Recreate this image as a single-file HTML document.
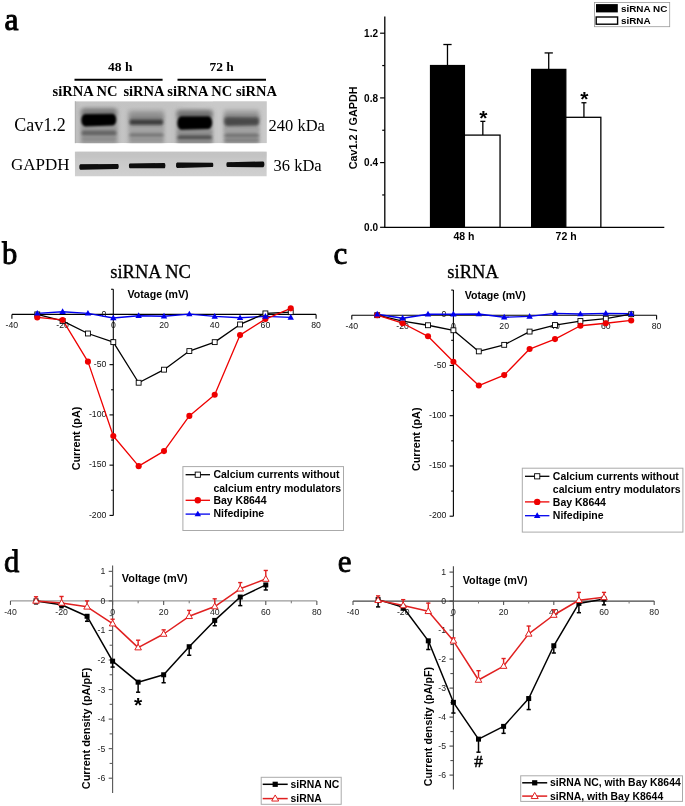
<!DOCTYPE html>
<html><head><meta charset="utf-8"><title>Figure</title>
<style>html,body{margin:0;padding:0;background:#fff;} svg{display:block;will-change:transform;}</style>
</head><body>
<svg width="685" height="806" viewBox="0 0 685 806">
<rect width="685" height="806" fill="#fff"/>
<text x="4.60" y="30.00" font-family='"Liberation Serif", serif' font-size="31.5" font-weight="normal" text-anchor="start" fill="#000" stroke="#000" stroke-width="1.0">a</text>
<text x="2.00" y="263.80" font-family='"Liberation Serif", serif' font-size="30.6" font-weight="normal" text-anchor="start" fill="#000" stroke="#000" stroke-width="0.9">b</text>
<text x="333.40" y="263.60" font-family='"Liberation Serif", serif' font-size="31" font-weight="normal" text-anchor="start" fill="#000" stroke="#000" stroke-width="0.9">c</text>
<text x="4.00" y="571.90" font-family='"Liberation Serif", serif' font-size="30.6" font-weight="normal" text-anchor="start" fill="#000" stroke="#000" stroke-width="0.8">d</text>
<text x="337.80" y="572.00" font-family='"Liberation Serif", serif' font-size="31" font-weight="normal" text-anchor="start" fill="#000" stroke="#000" stroke-width="0.8">e</text>
<text x="120.30" y="70.70" font-family='"Liberation Serif", serif' font-size="13.5" font-weight="bold" text-anchor="middle" fill="#000" >48 h</text>
<text x="221.60" y="70.70" font-family='"Liberation Serif", serif' font-size="13.5" font-weight="bold" text-anchor="middle" fill="#000" >72 h</text>
<line x1="74.50" y1="79.80" x2="162.60" y2="79.80" stroke="#000" stroke-width="2" />
<line x1="177.50" y1="79.80" x2="266.00" y2="79.80" stroke="#000" stroke-width="2" />
<text x="85.00" y="96.40" font-family='"Liberation Serif", serif' font-size="14.5" font-weight="bold" text-anchor="middle" fill="#000" >siRNA NC</text>
<text x="144.00" y="96.40" font-family='"Liberation Serif", serif' font-size="14.5" font-weight="bold" text-anchor="middle" fill="#000" >siRNA</text>
<text x="199.70" y="96.40" font-family='"Liberation Serif", serif' font-size="14.5" font-weight="bold" text-anchor="middle" fill="#000" >siRNA NC</text>
<text x="256.50" y="96.40" font-family='"Liberation Serif", serif' font-size="14.5" font-weight="bold" text-anchor="middle" fill="#000" >siRNA</text>
<text x="14.30" y="130.80" font-family='"Liberation Serif", serif' font-size="18" font-weight="normal" text-anchor="start" fill="#000" >Cav1.2</text>
<text x="11.00" y="169.60" font-family='"Liberation Serif", serif' font-size="17" font-weight="normal" text-anchor="start" fill="#000" >GAPDH</text>
<text x="268.50" y="131.30" font-family='"Liberation Serif", serif' font-size="16.5" font-weight="normal" text-anchor="start" fill="#000" >240 kDa</text>
<text x="273.50" y="170.70" font-family='"Liberation Serif", serif' font-size="16.5" font-weight="normal" text-anchor="start" fill="#000" >36 kDa</text>
<defs>
<filter id="b06" x="-20%" y="-100%" width="140%" height="300%"><feGaussianBlur stdDeviation="0.6"/></filter>
<filter id="b10" x="-20%" y="-100%" width="140%" height="300%"><feGaussianBlur stdDeviation="1.0"/></filter>
<filter id="b14" x="-20%" y="-100%" width="140%" height="300%"><feGaussianBlur stdDeviation="1.4"/></filter>
<filter id="b20" x="-30%" y="-100%" width="160%" height="300%"><feGaussianBlur stdDeviation="2.0"/></filter>
<filter id="b30" x="-30%" y="-100%" width="160%" height="300%"><feGaussianBlur stdDeviation="3.0"/></filter>
<linearGradient id="gbg" x1="0" x2="1" y1="0" y2="0">
<stop offset="0" stop-color="#bdbdbd"/><stop offset="0.03" stop-color="#c4c4c4"/><stop offset="0.5" stop-color="#c3c3c3"/><stop offset="0.72" stop-color="#c9c9c9"/><stop offset="1" stop-color="#c8c8c8"/>
</linearGradient>
<linearGradient id="gbg2" x1="0" x2="0" y1="0" y2="1">
<stop offset="0" stop-color="#c6c6c6"/><stop offset="0.5" stop-color="#cacaca"/><stop offset="1" stop-color="#d0d0d0"/>
</linearGradient>
<clipPath id="cb1"><rect x="74.8" y="101.2" width="192" height="42"/></clipPath>
<clipPath id="cb2"><rect x="74.8" y="151.5" width="192" height="25"/></clipPath>
</defs>
<g clip-path="url(#cb1)">
<rect x="74.8" y="101.2" width="192" height="42" fill="url(#gbg)"/>
<rect x="213" y="101.2" width="54" height="42" fill="#c9c9c9" opacity="0.6"/>
<rect x="80.5" y="110" width="37.0" height="36" fill="#9c9c9c" filter="url(#b20)"/>
<rect x="128.5" y="110" width="35.5" height="36" fill="#a4a4a4" filter="url(#b20)"/>
<rect x="176.5" y="110" width="36.0" height="36" fill="#989898" filter="url(#b20)"/>
<rect x="224" y="110" width="35" height="36" fill="#a0a0a0" filter="url(#b20)"/>
<path d="M83.60,108.50 L114.40,108.50 A2.10,3.50 0 0 1 114.40,115.50 L83.60,115.50 A2.10,3.50 0 0 1 83.60,108.50 Z" fill="#7a7a7a" opacity="1.0" filter="url(#b20)"/>
<path d="M131.60,113.50 L161.40,113.50 A2.10,3.50 0 0 1 161.40,120.50 L131.60,120.50 A2.10,3.50 0 0 1 131.60,113.50 Z" fill="#8a8a8a" opacity="1.0" filter="url(#b20)"/>
<path d="M179.60,111.00 L209.90,111.00 A2.10,3.50 0 0 1 209.90,118.00 L179.60,118.00 A2.10,3.50 0 0 1 179.60,111.00 Z" fill="#707070" opacity="1.0" filter="url(#b20)"/>
<path d="M226.60,114.50 L256.90,114.50 A2.10,3.50 0 0 1 256.90,121.50 L226.60,121.50 A2.10,3.50 0 0 1 226.60,114.50 Z" fill="#888888" opacity="1.0" filter="url(#b20)"/>
<path d="M82.40,126.50 L115.60,126.50 A0.90,1.50 0 0 1 115.60,129.50 L82.40,129.50 A0.90,1.50 0 0 1 82.40,126.50 Z" fill="#9a9a9a" opacity="1.0" filter="url(#b14)"/>
<path d="M83.00,130.50 L115.00,130.50 A1.50,2.50 0 0 1 115.00,135.50 L83.00,135.50 A1.50,2.50 0 0 1 83.00,130.50 Z" fill="#626262" opacity="1.0" filter="url(#b14)"/>
<path d="M83.05,137.25 L114.95,137.25 A1.05,1.75 0 0 1 114.95,140.75 L83.05,140.75 A1.05,1.75 0 0 1 83.05,137.25 Z" fill="#8a8a8a" opacity="1.0" filter="url(#b14)"/>
<path d="M130.70,127.00 L162.30,127.00 A1.20,2.00 0 0 1 162.30,131.00 L130.70,131.00 A1.20,2.00 0 0 1 130.70,127.00 Z" fill="#a4a4a4" opacity="1.0" filter="url(#b14)"/>
<path d="M130.64,133.30 L162.36,133.30 A1.14,1.90 0 0 1 162.36,137.10 L130.64,137.10 A1.14,1.90 0 0 1 130.64,133.30 Z" fill="#747474" opacity="1.0" filter="url(#b14)"/>
<path d="M130.90,138.30 L162.10,138.30 A0.90,1.50 0 0 1 162.10,141.30 L130.90,141.30 A0.90,1.50 0 0 1 130.90,138.30 Z" fill="#909090" opacity="1.0" filter="url(#b14)"/>
<path d="M178.55,130.25 L210.95,130.25 A1.05,1.75 0 0 1 210.95,133.75 L178.55,133.75 A1.05,1.75 0 0 1 178.55,130.25 Z" fill="#8e8e8e" opacity="1.0" filter="url(#b14)"/>
<path d="M178.85,135.15 L210.65,135.15 A1.35,2.25 0 0 1 210.65,139.65 L178.85,139.65 A1.35,2.25 0 0 1 178.85,135.15 Z" fill="#505050" opacity="1.0" filter="url(#b14)"/>
<path d="M178.75,140.15 L211.25,140.15 A0.75,1.25 0 0 1 211.25,142.65 L178.75,142.65 A0.75,1.25 0 0 1 178.75,140.15 Z" fill="#888888" opacity="1.0" filter="url(#b14)"/>
<path d="M226.00,127.00 L257.50,127.00 A1.50,2.50 0 0 1 257.50,132.00 L226.00,132.00 A1.50,2.50 0 0 1 226.00,127.00 Z" fill="#a2a2a2" opacity="1.0" filter="url(#b14)"/>
<path d="M225.55,133.85 L257.95,133.85 A1.05,1.75 0 0 1 257.95,137.35 L225.55,137.35 A1.05,1.75 0 0 1 225.55,133.85 Z" fill="#6e6e6e" opacity="1.0" filter="url(#b14)"/>
<path d="M225.46,138.60 L258.04,138.60 A0.96,1.60 0 0 1 258.04,141.80 L225.46,141.80 A0.96,1.60 0 0 1 225.46,138.60 Z" fill="#7a7a7a" opacity="1.0" filter="url(#b14)"/>
<path d="M85.02,114.00 L112.76,113.70 A3.54,5.90 0 0 1 112.76,125.50 L85.02,126.40 A3.72,6.20 0 0 1 85.02,114.00 Z" fill="#050505" opacity="1.0" filter="url(#b10)"/>
<path d="M131.24,119.30 L161.46,119.30 A1.74,2.90 0 0 1 161.46,125.10 L131.24,125.10 A1.74,2.90 0 0 1 131.24,119.30 Z" fill="#3e3e3e" opacity="1.0" filter="url(#b14)"/>
<path d="M181.32,116.30 L208.42,116.30 A3.78,6.30 0 0 1 208.42,128.90 L181.32,129.70 A4.02,6.70 0 0 1 181.32,116.30 Z" fill="#020202" opacity="1.0" filter="url(#b10)"/>
<path d="M226.78,117.30 L256.60,117.40 A2.40,4.00 0 0 1 256.60,125.40 L226.78,125.90 A2.58,4.30 0 0 1 226.78,117.30 Z" fill="#484848" opacity="1.0" filter="url(#b14)"/>
</g>
<line x1="75.3" y1="101.2" x2="75.3" y2="143.2" stroke="#aaa" stroke-width="0.8"/>
<g clip-path="url(#cb2)">
<rect x="74.8" y="151.5" width="192" height="25" fill="url(#gbg2)"/>
<rect x="74.8" y="151.5" width="192" height="6" fill="#c2c2c2" filter="url(#b20)"/>
<path d="M80.42,164.20 L117.74,164.10 A0.96,2.40 0 0 1 117.74,168.90 L80.42,169.80 A1.12,2.80 0 0 1 80.42,164.20 Z" fill="#080808" opacity="1.0" filter="url(#b06)"/>
<path d="M129.86,163.40 L164.32,162.90 A1.08,2.70 0 0 1 164.32,168.30 L129.86,168.20 A0.96,2.40 0 0 1 129.86,163.40 Z" fill="#080808" opacity="1.0" filter="url(#b06)"/>
<path d="M177.12,162.40 L212.42,162.70 A0.88,2.20 0 0 1 212.42,167.10 L177.12,168.00 A1.12,2.80 0 0 1 177.12,162.40 Z" fill="#080808" opacity="1.0" filter="url(#b06)"/>
<path d="M227.36,162.30 L263.24,161.40 A1.16,2.90 0 0 1 263.24,167.20 L227.36,167.10 A0.96,2.40 0 0 1 227.36,162.30 Z" fill="#080808" opacity="1.0" filter="url(#b06)"/>
</g>
<line x1="384.80" y1="16.60" x2="384.80" y2="227.80" stroke="#000" stroke-width="1.3" />
<line x1="384.20" y1="227.30" x2="664.30" y2="227.30" stroke="#000" stroke-width="1.3" />
<line x1="380.10" y1="227.30" x2="384.80" y2="227.30" stroke="#000" stroke-width="1.2" />
<text x="378.00" y="230.90" font-family='"Liberation Sans", sans-serif' font-size="10" font-weight="bold" text-anchor="end" fill="#000" >0.0</text>
<line x1="380.10" y1="162.60" x2="384.80" y2="162.60" stroke="#000" stroke-width="1.2" />
<text x="378.00" y="166.20" font-family='"Liberation Sans", sans-serif' font-size="10" font-weight="bold" text-anchor="end" fill="#000" >0.4</text>
<line x1="380.10" y1="97.90" x2="384.80" y2="97.90" stroke="#000" stroke-width="1.2" />
<text x="378.00" y="101.50" font-family='"Liberation Sans", sans-serif' font-size="10" font-weight="bold" text-anchor="end" fill="#000" >0.8</text>
<line x1="380.10" y1="33.20" x2="384.80" y2="33.20" stroke="#000" stroke-width="1.2" />
<text x="378.00" y="36.80" font-family='"Liberation Sans", sans-serif' font-size="10" font-weight="bold" text-anchor="end" fill="#000" >1.2</text>
<line x1="382.20" y1="194.95" x2="384.80" y2="194.95" stroke="#000" stroke-width="1.2" />
<line x1="382.20" y1="130.25" x2="384.80" y2="130.25" stroke="#000" stroke-width="1.2" />
<line x1="382.20" y1="65.55" x2="384.80" y2="65.55" stroke="#000" stroke-width="1.2" />
<text x="0.00" y="0.00" font-family='"Liberation Sans", sans-serif' font-size="10.8" font-weight="bold" text-anchor="middle" fill="#000" transform="translate(357.0,127.8) rotate(-90)">Cav1.2 / GAPDH</text>
<line x1="447.48" y1="65.55" x2="447.48" y2="44.52" stroke="#000" stroke-width="1.3" />
<line x1="443.33" y1="44.52" x2="451.62" y2="44.52" stroke="#000" stroke-width="1.3" />
<rect x="430.55" y="65.55" width="33.85" height="161.75" fill="#000" stroke="#000" stroke-width="1.3"/>
<line x1="482.83" y1="135.10" x2="482.83" y2="121.35" stroke="#000" stroke-width="1.3" />
<line x1="480.33" y1="121.35" x2="485.33" y2="121.35" stroke="#000" stroke-width="1.3" />
<rect x="464.40" y="135.10" width="35.65" height="92.20" fill="#fff" stroke="#000" stroke-width="1.3"/>
<line x1="548.72" y1="69.43" x2="548.72" y2="52.93" stroke="#000" stroke-width="1.3" />
<line x1="544.57" y1="52.93" x2="552.87" y2="52.93" stroke="#000" stroke-width="1.3" />
<rect x="531.65" y="69.43" width="34.15" height="157.87" fill="#000" stroke="#000" stroke-width="1.3"/>
<line x1="583.93" y1="117.31" x2="583.93" y2="102.75" stroke="#000" stroke-width="1.3" />
<line x1="581.43" y1="102.75" x2="586.43" y2="102.75" stroke="#000" stroke-width="1.3" />
<rect x="565.80" y="117.31" width="35.05" height="109.99" fill="#fff" stroke="#000" stroke-width="1.3"/>
<text x="483.30" y="124.50" font-family='"Liberation Sans", sans-serif' font-size="21" font-weight="bold" text-anchor="middle" fill="#000" >*</text>
<text x="584.40" y="106.30" font-family='"Liberation Sans", sans-serif' font-size="21" font-weight="bold" text-anchor="middle" fill="#000" >*</text>
<text x="464.00" y="240.40" font-family='"Liberation Sans", sans-serif' font-size="10.5" font-weight="bold" text-anchor="middle" fill="#000" >48 h</text>
<text x="566.10" y="240.40" font-family='"Liberation Sans", sans-serif' font-size="10.5" font-weight="bold" text-anchor="middle" fill="#000" >72 h</text>
<rect x="594.5" y="2.5" width="75.2" height="24.2" fill="#fff" stroke="#9a9a9a" stroke-width="0.8"/>
<rect x="596" y="4.1" width="21.8" height="8.3" fill="#000"/>
<rect x="596.2" y="17.0" width="21.4" height="7.2" fill="#fff" stroke="#000" stroke-width="1.4"/>
<text x="621.00" y="11.60" font-family='"Liberation Sans", sans-serif' font-size="9.9" font-weight="bold" text-anchor="start" fill="#000" >siRNA NC</text>
<text x="621.00" y="24.20" font-family='"Liberation Sans", sans-serif' font-size="9.9" font-weight="bold" text-anchor="start" fill="#000" >siRNA</text>
<text x="150.60" y="277.50" font-family='"Liberation Serif", serif' font-size="18.5" font-weight="normal" text-anchor="middle" fill="#000" stroke="#000" stroke-width="0.3">siRNA NC</text>
<line x1="11.90" y1="314.40" x2="316.10" y2="314.40" stroke="#000" stroke-width="1.1" />
<line x1="113.30" y1="289.27" x2="113.30" y2="515.40" stroke="#000" stroke-width="1.1" />
<line x1="11.90" y1="314.40" x2="11.90" y2="318.70" stroke="#000" stroke-width="1.1" />
<line x1="316.10" y1="314.40" x2="316.10" y2="318.70" stroke="#000" stroke-width="1.1" />
<text x="11.90" y="328.30" font-family='"Liberation Sans", sans-serif' font-size="8.7" font-weight="normal" text-anchor="middle" fill="#111" >-40</text>
<text x="62.60" y="328.30" font-family='"Liberation Sans", sans-serif' font-size="8.7" font-weight="normal" text-anchor="middle" fill="#111" >-20</text>
<text x="113.30" y="328.30" font-family='"Liberation Sans", sans-serif' font-size="8.7" font-weight="normal" text-anchor="middle" fill="#111" >0</text>
<text x="164.00" y="328.30" font-family='"Liberation Sans", sans-serif' font-size="8.7" font-weight="normal" text-anchor="middle" fill="#111" >20</text>
<text x="214.70" y="328.30" font-family='"Liberation Sans", sans-serif' font-size="8.7" font-weight="normal" text-anchor="middle" fill="#111" >40</text>
<text x="265.40" y="328.30" font-family='"Liberation Sans", sans-serif' font-size="8.7" font-weight="normal" text-anchor="middle" fill="#111" >60</text>
<text x="316.10" y="328.30" font-family='"Liberation Sans", sans-serif' font-size="8.7" font-weight="normal" text-anchor="middle" fill="#111" >80</text>
<line x1="109.50" y1="314.40" x2="113.30" y2="314.40" stroke="#000" stroke-width="1.1" />
<text x="106.30" y="316.60" font-family='"Liberation Sans", sans-serif' font-size="8.7" font-weight="normal" text-anchor="end" fill="#111" >0</text>
<line x1="109.50" y1="364.65" x2="113.30" y2="364.65" stroke="#000" stroke-width="1.1" />
<text x="106.30" y="366.85" font-family='"Liberation Sans", sans-serif' font-size="8.7" font-weight="normal" text-anchor="end" fill="#111" >-50</text>
<line x1="109.50" y1="414.90" x2="113.30" y2="414.90" stroke="#000" stroke-width="1.1" />
<text x="106.30" y="417.10" font-family='"Liberation Sans", sans-serif' font-size="8.7" font-weight="normal" text-anchor="end" fill="#111" >-100</text>
<line x1="109.50" y1="465.15" x2="113.30" y2="465.15" stroke="#000" stroke-width="1.1" />
<text x="106.30" y="467.35" font-family='"Liberation Sans", sans-serif' font-size="8.7" font-weight="normal" text-anchor="end" fill="#111" >-150</text>
<line x1="109.50" y1="515.40" x2="113.30" y2="515.40" stroke="#000" stroke-width="1.1" />
<text x="106.30" y="517.60" font-family='"Liberation Sans", sans-serif' font-size="8.7" font-weight="normal" text-anchor="end" fill="#111" >-200</text>
<line x1="111.10" y1="289.27" x2="113.30" y2="289.27" stroke="#000" stroke-width="1.1" />
<line x1="111.10" y1="339.52" x2="113.30" y2="339.52" stroke="#000" stroke-width="1.1" />
<line x1="111.10" y1="389.77" x2="113.30" y2="389.77" stroke="#000" stroke-width="1.1" />
<line x1="111.10" y1="440.02" x2="113.30" y2="440.02" stroke="#000" stroke-width="1.1" />
<line x1="111.10" y1="490.27" x2="113.30" y2="490.27" stroke="#000" stroke-width="1.1" />
<text x="127.60" y="298.10" font-family='"Liberation Sans", sans-serif' font-size="10.6" font-weight="bold" text-anchor="start" fill="#000" >Votage (mV)</text>
<text x="0.00" y="0.00" font-family='"Liberation Sans", sans-serif' font-size="10.8" font-weight="bold" text-anchor="middle" fill="#000" transform="translate(80.1,438.5) rotate(-90)">Current (pA)</text>
<polyline points="37.25,313.39 62.60,311.69 87.95,313.39 113.30,318.02 138.65,315.71 164.00,316.21 189.35,314.10 214.70,316.41 240.05,317.72 265.40,316.41 290.75,317.41" fill="none" stroke="#0000ee" stroke-width="1.4" stroke-linejoin="round"/>
<polyline points="37.25,314.40 62.60,320.93 87.95,333.50 113.30,342.14 138.65,382.74 164.00,369.67 189.35,351.08 214.70,342.14 240.05,324.45 265.40,313.39 290.75,312.19" fill="none" stroke="#000" stroke-width="1.3" stroke-linejoin="round"/>
<polyline points="37.25,317.41 62.60,319.93 87.95,361.63 113.30,436.00 138.65,466.15 164.00,451.08 189.35,415.90 214.70,394.80 240.05,335.10 265.40,319.12 290.75,308.37" fill="none" stroke="#ee0000" stroke-width="1.3" stroke-linejoin="round"/>
<rect x="34.80" y="311.95" width="4.9" height="4.9" fill="#fff" stroke="#000" stroke-width="0.9"/>
<rect x="60.15" y="318.48" width="4.9" height="4.9" fill="#fff" stroke="#000" stroke-width="0.9"/>
<rect x="85.50" y="331.05" width="4.9" height="4.9" fill="#fff" stroke="#000" stroke-width="0.9"/>
<rect x="110.85" y="339.69" width="4.9" height="4.9" fill="#fff" stroke="#000" stroke-width="0.9"/>
<rect x="136.20" y="380.29" width="4.9" height="4.9" fill="#fff" stroke="#000" stroke-width="0.9"/>
<rect x="161.55" y="367.22" width="4.9" height="4.9" fill="#fff" stroke="#000" stroke-width="0.9"/>
<rect x="186.90" y="348.63" width="4.9" height="4.9" fill="#fff" stroke="#000" stroke-width="0.9"/>
<rect x="212.25" y="339.69" width="4.9" height="4.9" fill="#fff" stroke="#000" stroke-width="0.9"/>
<rect x="237.60" y="322.00" width="4.9" height="4.9" fill="#fff" stroke="#000" stroke-width="0.9"/>
<rect x="262.95" y="310.94" width="4.9" height="4.9" fill="#fff" stroke="#000" stroke-width="0.9"/>
<rect x="288.30" y="309.74" width="4.9" height="4.9" fill="#fff" stroke="#000" stroke-width="0.9"/>
<circle cx="37.25" cy="317.41" r="3.05" fill="#ee0000"/>
<circle cx="62.60" cy="319.93" r="3.05" fill="#ee0000"/>
<circle cx="87.95" cy="361.63" r="3.05" fill="#ee0000"/>
<circle cx="113.30" cy="436.00" r="3.05" fill="#ee0000"/>
<circle cx="138.65" cy="466.15" r="3.05" fill="#ee0000"/>
<circle cx="164.00" cy="451.08" r="3.05" fill="#ee0000"/>
<circle cx="189.35" cy="415.90" r="3.05" fill="#ee0000"/>
<circle cx="214.70" cy="394.80" r="3.05" fill="#ee0000"/>
<circle cx="240.05" cy="335.10" r="3.05" fill="#ee0000"/>
<circle cx="265.40" cy="319.12" r="3.05" fill="#ee0000"/>
<circle cx="290.75" cy="308.37" r="3.05" fill="#ee0000"/>
<polygon points="37.25,310.05 34.05,315.62 40.45,315.62" fill="#0000ee" stroke="none" stroke-width="1.0" stroke-linejoin="miter"/>
<polygon points="62.60,308.35 59.40,313.91 65.80,313.91" fill="#0000ee" stroke="none" stroke-width="1.0" stroke-linejoin="miter"/>
<polygon points="87.95,310.05 84.75,315.62 91.15,315.62" fill="#0000ee" stroke="none" stroke-width="1.0" stroke-linejoin="miter"/>
<polygon points="113.30,314.68 110.10,320.25 116.50,320.25" fill="#0000ee" stroke="none" stroke-width="1.0" stroke-linejoin="miter"/>
<polygon points="138.65,312.37 135.45,317.93 141.85,317.93" fill="#0000ee" stroke="none" stroke-width="1.0" stroke-linejoin="miter"/>
<polygon points="164.00,312.87 160.80,318.44 167.20,318.44" fill="#0000ee" stroke="none" stroke-width="1.0" stroke-linejoin="miter"/>
<polygon points="189.35,310.76 186.15,316.33 192.55,316.33" fill="#0000ee" stroke="none" stroke-width="1.0" stroke-linejoin="miter"/>
<polygon points="214.70,313.07 211.50,318.64 217.90,318.64" fill="#0000ee" stroke="none" stroke-width="1.0" stroke-linejoin="miter"/>
<polygon points="240.05,314.38 236.85,319.94 243.25,319.94" fill="#0000ee" stroke="none" stroke-width="1.0" stroke-linejoin="miter"/>
<polygon points="265.40,313.07 262.20,318.64 268.60,318.64" fill="#0000ee" stroke="none" stroke-width="1.0" stroke-linejoin="miter"/>
<polygon points="290.75,314.07 287.55,319.64 293.95,319.64" fill="#0000ee" stroke="none" stroke-width="1.0" stroke-linejoin="miter"/>
<rect x="182.9" y="466.6" width="160.6" height="63.9" fill="#fff" stroke="#aaa" stroke-width="1"/>
<line x1="185.60" y1="474.70" x2="210.00" y2="474.70" stroke="#000" stroke-width="1.3" />
<rect x="195.20" y="472.10" width="5.2" height="5.2" fill="#fff" stroke="#000" stroke-width="0.9"/>
<line x1="185.60" y1="500.30" x2="210.00" y2="500.30" stroke="#ee0000" stroke-width="1.3" />
<circle cx="197.80" cy="500.30" r="3.2" fill="#ee0000"/>
<line x1="185.60" y1="514.10" x2="210.00" y2="514.10" stroke="#0000ee" stroke-width="1.3" />
<polygon points="197.80,510.71 194.55,516.36 201.05,516.36" fill="#0000ee" stroke="none" stroke-width="1.0" stroke-linejoin="miter"/>
<text x="213.40" y="478.40" font-family='"Liberation Sans", sans-serif' font-size="10.5" font-weight="bold" text-anchor="start" fill="#000" >Calcium currents without</text>
<text x="213.40" y="491.50" font-family='"Liberation Sans", sans-serif' font-size="10.5" font-weight="bold" text-anchor="start" fill="#000" >calcium entry modulators</text>
<text x="213.40" y="504.20" font-family='"Liberation Sans", sans-serif' font-size="10.5" font-weight="bold" text-anchor="start" fill="#000" >Bay K8644</text>
<text x="213.40" y="517.30" font-family='"Liberation Sans", sans-serif' font-size="10.5" font-weight="bold" text-anchor="start" fill="#000" >Nifedipine</text>
<text x="473.00" y="277.50" font-family='"Liberation Serif", serif' font-size="18.5" font-weight="normal" text-anchor="middle" fill="#000" stroke="#000" stroke-width="0.3">siRNA</text>
<line x1="351.80" y1="315.20" x2="656.60" y2="315.20" stroke="#000" stroke-width="1.1" />
<line x1="453.40" y1="290.07" x2="453.40" y2="516.20" stroke="#000" stroke-width="1.1" />
<line x1="351.80" y1="315.20" x2="351.80" y2="319.50" stroke="#000" stroke-width="1.1" />
<line x1="656.60" y1="315.20" x2="656.60" y2="319.50" stroke="#000" stroke-width="1.1" />
<text x="351.80" y="329.10" font-family='"Liberation Sans", sans-serif' font-size="8.7" font-weight="normal" text-anchor="middle" fill="#111" >-40</text>
<text x="402.60" y="329.10" font-family='"Liberation Sans", sans-serif' font-size="8.7" font-weight="normal" text-anchor="middle" fill="#111" >-20</text>
<text x="453.40" y="329.10" font-family='"Liberation Sans", sans-serif' font-size="8.7" font-weight="normal" text-anchor="middle" fill="#111" >0</text>
<text x="504.20" y="329.10" font-family='"Liberation Sans", sans-serif' font-size="8.7" font-weight="normal" text-anchor="middle" fill="#111" >20</text>
<text x="555.00" y="329.10" font-family='"Liberation Sans", sans-serif' font-size="8.7" font-weight="normal" text-anchor="middle" fill="#111" >40</text>
<text x="605.80" y="329.10" font-family='"Liberation Sans", sans-serif' font-size="8.7" font-weight="normal" text-anchor="middle" fill="#111" >60</text>
<text x="656.60" y="329.10" font-family='"Liberation Sans", sans-serif' font-size="8.7" font-weight="normal" text-anchor="middle" fill="#111" >80</text>
<line x1="449.60" y1="315.20" x2="453.40" y2="315.20" stroke="#000" stroke-width="1.1" />
<text x="446.40" y="317.40" font-family='"Liberation Sans", sans-serif' font-size="8.7" font-weight="normal" text-anchor="end" fill="#111" >0</text>
<line x1="449.60" y1="365.45" x2="453.40" y2="365.45" stroke="#000" stroke-width="1.1" />
<text x="446.40" y="367.65" font-family='"Liberation Sans", sans-serif' font-size="8.7" font-weight="normal" text-anchor="end" fill="#111" >-50</text>
<line x1="449.60" y1="415.70" x2="453.40" y2="415.70" stroke="#000" stroke-width="1.1" />
<text x="446.40" y="417.90" font-family='"Liberation Sans", sans-serif' font-size="8.7" font-weight="normal" text-anchor="end" fill="#111" >-100</text>
<line x1="449.60" y1="465.95" x2="453.40" y2="465.95" stroke="#000" stroke-width="1.1" />
<text x="446.40" y="468.15" font-family='"Liberation Sans", sans-serif' font-size="8.7" font-weight="normal" text-anchor="end" fill="#111" >-150</text>
<line x1="449.60" y1="516.20" x2="453.40" y2="516.20" stroke="#000" stroke-width="1.1" />
<text x="446.40" y="518.40" font-family='"Liberation Sans", sans-serif' font-size="8.7" font-weight="normal" text-anchor="end" fill="#111" >-200</text>
<line x1="451.20" y1="290.07" x2="453.40" y2="290.07" stroke="#000" stroke-width="1.1" />
<line x1="451.20" y1="340.32" x2="453.40" y2="340.32" stroke="#000" stroke-width="1.1" />
<line x1="451.20" y1="390.57" x2="453.40" y2="390.57" stroke="#000" stroke-width="1.1" />
<line x1="451.20" y1="440.82" x2="453.40" y2="440.82" stroke="#000" stroke-width="1.1" />
<line x1="451.20" y1="491.07" x2="453.40" y2="491.07" stroke="#000" stroke-width="1.1" />
<text x="464.70" y="298.90" font-family='"Liberation Sans", sans-serif' font-size="10.6" font-weight="bold" text-anchor="start" fill="#000" >Votage (mV)</text>
<text x="0.00" y="0.00" font-family='"Liberation Sans", sans-serif' font-size="10.8" font-weight="bold" text-anchor="middle" fill="#000" transform="translate(420.2,439.3) rotate(-90)">Current (pA)</text>
<polyline points="377.20,314.19 402.60,318.21 428.00,314.19 453.40,314.19 478.80,313.99 504.20,317.21 529.60,316.41 555.00,313.39 580.40,313.99 605.80,313.39 631.20,313.79" fill="none" stroke="#0000ee" stroke-width="1.4" stroke-linejoin="round"/>
<polyline points="377.20,315.20 402.60,321.23 428.00,325.25 453.40,330.27 478.80,351.38 504.20,344.85 529.60,331.58 555.00,325.05 580.40,321.03 605.80,318.72 631.20,314.19" fill="none" stroke="#000" stroke-width="1.3" stroke-linejoin="round"/>
<polyline points="377.20,315.20 402.60,323.24 428.00,336.31 453.40,361.73 478.80,385.55 504.20,375.10 529.60,349.07 555.00,339.12 580.40,325.75 605.80,323.24 631.20,320.43" fill="none" stroke="#ee0000" stroke-width="1.3" stroke-linejoin="round"/>
<rect x="374.75" y="312.75" width="4.9" height="4.9" fill="#fff" stroke="#000" stroke-width="0.9"/>
<rect x="400.15" y="318.78" width="4.9" height="4.9" fill="#fff" stroke="#000" stroke-width="0.9"/>
<rect x="425.55" y="322.80" width="4.9" height="4.9" fill="#fff" stroke="#000" stroke-width="0.9"/>
<rect x="450.95" y="327.82" width="4.9" height="4.9" fill="#fff" stroke="#000" stroke-width="0.9"/>
<rect x="476.35" y="348.93" width="4.9" height="4.9" fill="#fff" stroke="#000" stroke-width="0.9"/>
<rect x="501.75" y="342.40" width="4.9" height="4.9" fill="#fff" stroke="#000" stroke-width="0.9"/>
<rect x="527.15" y="329.13" width="4.9" height="4.9" fill="#fff" stroke="#000" stroke-width="0.9"/>
<rect x="552.55" y="322.60" width="4.9" height="4.9" fill="#fff" stroke="#000" stroke-width="0.9"/>
<rect x="577.95" y="318.58" width="4.9" height="4.9" fill="#fff" stroke="#000" stroke-width="0.9"/>
<rect x="603.35" y="316.27" width="4.9" height="4.9" fill="#fff" stroke="#000" stroke-width="0.9"/>
<rect x="628.75" y="311.75" width="4.9" height="4.9" fill="#fff" stroke="#000" stroke-width="0.9"/>
<circle cx="377.20" cy="315.20" r="3.05" fill="#ee0000"/>
<circle cx="402.60" cy="323.24" r="3.05" fill="#ee0000"/>
<circle cx="428.00" cy="336.31" r="3.05" fill="#ee0000"/>
<circle cx="453.40" cy="361.73" r="3.05" fill="#ee0000"/>
<circle cx="478.80" cy="385.55" r="3.05" fill="#ee0000"/>
<circle cx="504.20" cy="375.10" r="3.05" fill="#ee0000"/>
<circle cx="529.60" cy="349.07" r="3.05" fill="#ee0000"/>
<circle cx="555.00" cy="339.12" r="3.05" fill="#ee0000"/>
<circle cx="580.40" cy="325.75" r="3.05" fill="#ee0000"/>
<circle cx="605.80" cy="323.24" r="3.05" fill="#ee0000"/>
<circle cx="631.20" cy="320.43" r="3.05" fill="#ee0000"/>
<polygon points="377.20,310.85 374.00,316.42 380.40,316.42" fill="#0000ee" stroke="none" stroke-width="1.0" stroke-linejoin="miter"/>
<polygon points="402.60,314.87 399.40,320.44 405.80,320.44" fill="#0000ee" stroke="none" stroke-width="1.0" stroke-linejoin="miter"/>
<polygon points="428.00,310.85 424.80,316.42 431.20,316.42" fill="#0000ee" stroke="none" stroke-width="1.0" stroke-linejoin="miter"/>
<polygon points="453.40,310.85 450.20,316.42 456.60,316.42" fill="#0000ee" stroke="none" stroke-width="1.0" stroke-linejoin="miter"/>
<polygon points="478.80,310.65 475.60,316.22 482.00,316.22" fill="#0000ee" stroke="none" stroke-width="1.0" stroke-linejoin="miter"/>
<polygon points="504.20,313.87 501.00,319.44 507.40,319.44" fill="#0000ee" stroke="none" stroke-width="1.0" stroke-linejoin="miter"/>
<polygon points="529.60,313.07 526.40,318.63 532.80,318.63" fill="#0000ee" stroke="none" stroke-width="1.0" stroke-linejoin="miter"/>
<polygon points="555.00,310.05 551.80,315.62 558.20,315.62" fill="#0000ee" stroke="none" stroke-width="1.0" stroke-linejoin="miter"/>
<polygon points="580.40,310.65 577.20,316.22 583.60,316.22" fill="#0000ee" stroke="none" stroke-width="1.0" stroke-linejoin="miter"/>
<polygon points="605.80,310.05 602.60,315.62 609.00,315.62" fill="#0000ee" stroke="none" stroke-width="1.0" stroke-linejoin="miter"/>
<polygon points="631.20,310.45 628.00,316.02 634.40,316.02" fill="#0000ee" stroke="none" stroke-width="1.0" stroke-linejoin="miter"/>
<rect x="522.3" y="468.2" width="160.6" height="63.9" fill="#fff" stroke="#aaa" stroke-width="1"/>
<line x1="525.00" y1="476.30" x2="549.40" y2="476.30" stroke="#000" stroke-width="1.3" />
<rect x="534.60" y="473.70" width="5.2" height="5.2" fill="#fff" stroke="#000" stroke-width="0.9"/>
<line x1="525.00" y1="501.90" x2="549.40" y2="501.90" stroke="#ee0000" stroke-width="1.3" />
<circle cx="537.20" cy="501.90" r="3.2" fill="#ee0000"/>
<line x1="525.00" y1="515.70" x2="549.40" y2="515.70" stroke="#0000ee" stroke-width="1.3" />
<polygon points="537.20,512.31 533.95,517.96 540.45,517.96" fill="#0000ee" stroke="none" stroke-width="1.0" stroke-linejoin="miter"/>
<text x="552.80" y="480.00" font-family='"Liberation Sans", sans-serif' font-size="10.5" font-weight="bold" text-anchor="start" fill="#000" >Calcium currents without</text>
<text x="552.80" y="493.10" font-family='"Liberation Sans", sans-serif' font-size="10.5" font-weight="bold" text-anchor="start" fill="#000" >calcium entry modulators</text>
<text x="552.80" y="505.80" font-family='"Liberation Sans", sans-serif' font-size="10.5" font-weight="bold" text-anchor="start" fill="#000" >Bay K8644</text>
<text x="552.80" y="518.90" font-family='"Liberation Sans", sans-serif' font-size="10.5" font-weight="bold" text-anchor="start" fill="#000" >Nifedipine</text>
<line x1="10.48" y1="600.90" x2="316.84" y2="600.90" stroke="#9a9a9a" stroke-width="1.3" />
<line x1="112.60" y1="565.44" x2="112.60" y2="792.98" stroke="#555" stroke-width="1.1" />
<line x1="10.48" y1="600.90" x2="10.48" y2="604.90" stroke="#555" stroke-width="1.1" />
<text x="10.48" y="615.10" font-family='"Liberation Sans", sans-serif' font-size="8.7" font-weight="normal" text-anchor="middle" fill="#222" >-40</text>
<line x1="61.54" y1="600.90" x2="61.54" y2="604.90" stroke="#555" stroke-width="1.1" />
<text x="61.54" y="615.10" font-family='"Liberation Sans", sans-serif' font-size="8.7" font-weight="normal" text-anchor="middle" fill="#222" >-20</text>
<line x1="112.60" y1="600.90" x2="112.60" y2="604.90" stroke="#555" stroke-width="1.1" />
<text x="112.60" y="615.10" font-family='"Liberation Sans", sans-serif' font-size="8.7" font-weight="normal" text-anchor="middle" fill="#222" >0</text>
<line x1="163.66" y1="600.90" x2="163.66" y2="604.90" stroke="#555" stroke-width="1.1" />
<text x="163.66" y="615.10" font-family='"Liberation Sans", sans-serif' font-size="8.7" font-weight="normal" text-anchor="middle" fill="#222" >20</text>
<line x1="214.72" y1="600.90" x2="214.72" y2="604.90" stroke="#555" stroke-width="1.1" />
<text x="214.72" y="615.10" font-family='"Liberation Sans", sans-serif' font-size="8.7" font-weight="normal" text-anchor="middle" fill="#222" >40</text>
<line x1="265.78" y1="600.90" x2="265.78" y2="604.90" stroke="#555" stroke-width="1.1" />
<text x="265.78" y="615.10" font-family='"Liberation Sans", sans-serif' font-size="8.7" font-weight="normal" text-anchor="middle" fill="#222" >60</text>
<line x1="316.84" y1="600.90" x2="316.84" y2="604.90" stroke="#555" stroke-width="1.1" />
<text x="316.84" y="615.10" font-family='"Liberation Sans", sans-serif' font-size="8.7" font-weight="normal" text-anchor="middle" fill="#222" >80</text>
<line x1="36.01" y1="600.90" x2="36.01" y2="603.30" stroke="#777" stroke-width="1.0" />
<line x1="87.07" y1="600.90" x2="87.07" y2="603.30" stroke="#777" stroke-width="1.0" />
<line x1="138.13" y1="600.90" x2="138.13" y2="603.30" stroke="#777" stroke-width="1.0" />
<line x1="189.19" y1="600.90" x2="189.19" y2="603.30" stroke="#777" stroke-width="1.0" />
<line x1="240.25" y1="600.90" x2="240.25" y2="603.30" stroke="#777" stroke-width="1.0" />
<line x1="291.31" y1="600.90" x2="291.31" y2="603.30" stroke="#777" stroke-width="1.0" />
<line x1="108.70" y1="571.35" x2="112.60" y2="571.35" stroke="#555" stroke-width="1.1" />
<text x="105.30" y="574.35" font-family='"Liberation Sans", sans-serif' font-size="8.7" font-weight="normal" text-anchor="end" fill="#222" >1</text>
<line x1="108.70" y1="600.90" x2="112.60" y2="600.90" stroke="#555" stroke-width="1.1" />
<text x="105.30" y="603.90" font-family='"Liberation Sans", sans-serif' font-size="8.7" font-weight="normal" text-anchor="end" fill="#222" >0</text>
<line x1="108.70" y1="630.45" x2="112.60" y2="630.45" stroke="#555" stroke-width="1.1" />
<text x="105.30" y="633.45" font-family='"Liberation Sans", sans-serif' font-size="8.7" font-weight="normal" text-anchor="end" fill="#222" >-1</text>
<line x1="108.70" y1="660.00" x2="112.60" y2="660.00" stroke="#555" stroke-width="1.1" />
<text x="105.30" y="663.00" font-family='"Liberation Sans", sans-serif' font-size="8.7" font-weight="normal" text-anchor="end" fill="#222" >-2</text>
<line x1="108.70" y1="689.55" x2="112.60" y2="689.55" stroke="#555" stroke-width="1.1" />
<text x="105.30" y="692.55" font-family='"Liberation Sans", sans-serif' font-size="8.7" font-weight="normal" text-anchor="end" fill="#222" >-3</text>
<line x1="108.70" y1="719.10" x2="112.60" y2="719.10" stroke="#555" stroke-width="1.1" />
<text x="105.30" y="722.10" font-family='"Liberation Sans", sans-serif' font-size="8.7" font-weight="normal" text-anchor="end" fill="#222" >-4</text>
<line x1="108.70" y1="748.65" x2="112.60" y2="748.65" stroke="#555" stroke-width="1.1" />
<text x="105.30" y="751.65" font-family='"Liberation Sans", sans-serif' font-size="8.7" font-weight="normal" text-anchor="end" fill="#222" >-5</text>
<line x1="108.70" y1="778.20" x2="112.60" y2="778.20" stroke="#555" stroke-width="1.1" />
<text x="105.30" y="781.20" font-family='"Liberation Sans", sans-serif' font-size="8.7" font-weight="normal" text-anchor="end" fill="#222" >-6</text>
<line x1="109.60" y1="586.12" x2="112.60" y2="586.12" stroke="#555" stroke-width="1.0" />
<line x1="109.60" y1="615.67" x2="112.60" y2="615.67" stroke="#555" stroke-width="1.0" />
<line x1="109.60" y1="645.23" x2="112.60" y2="645.23" stroke="#555" stroke-width="1.0" />
<line x1="109.60" y1="674.77" x2="112.60" y2="674.77" stroke="#555" stroke-width="1.0" />
<line x1="109.60" y1="704.32" x2="112.60" y2="704.32" stroke="#555" stroke-width="1.0" />
<line x1="109.60" y1="733.88" x2="112.60" y2="733.88" stroke="#555" stroke-width="1.0" />
<line x1="109.60" y1="763.42" x2="112.60" y2="763.42" stroke="#555" stroke-width="1.0" />
<text x="121.80" y="581.90" font-family='"Liberation Sans", sans-serif' font-size="10.9" font-weight="bold" text-anchor="start" fill="#000" >Voltage (mV)</text>
<text x="0.00" y="0.00" font-family='"Liberation Sans", sans-serif' font-size="10.9" font-weight="bold" text-anchor="middle" fill="#000" transform="translate(90.2,728.4) rotate(-90)">Current density (pA/pF)</text>
<line x1="36.01" y1="600.90" x2="36.01" y2="603.86" stroke="#000" stroke-width="1.5" />
<line x1="33.91" y1="603.86" x2="38.11" y2="603.86" stroke="#000" stroke-width="1.5" />
<line x1="36.01" y1="600.90" x2="36.01" y2="596.76" stroke="#e02020" stroke-width="1.4" />
<line x1="33.91" y1="596.76" x2="38.11" y2="596.76" stroke="#e02020" stroke-width="1.4" />
<line x1="61.54" y1="604.74" x2="61.54" y2="607.70" stroke="#000" stroke-width="1.5" />
<line x1="59.44" y1="607.70" x2="63.64" y2="607.70" stroke="#000" stroke-width="1.5" />
<line x1="61.54" y1="602.97" x2="61.54" y2="596.47" stroke="#e02020" stroke-width="1.4" />
<line x1="59.44" y1="596.47" x2="63.64" y2="596.47" stroke="#e02020" stroke-width="1.4" />
<line x1="87.07" y1="616.27" x2="87.07" y2="621.29" stroke="#000" stroke-width="1.5" />
<line x1="84.97" y1="621.29" x2="89.17" y2="621.29" stroke="#000" stroke-width="1.5" />
<line x1="87.07" y1="606.81" x2="87.07" y2="600.90" stroke="#e02020" stroke-width="1.4" />
<line x1="84.97" y1="600.90" x2="89.17" y2="600.90" stroke="#e02020" stroke-width="1.4" />
<line x1="112.60" y1="661.18" x2="112.60" y2="667.09" stroke="#000" stroke-width="1.5" />
<line x1="110.50" y1="667.09" x2="114.70" y2="667.09" stroke="#000" stroke-width="1.5" />
<line x1="112.60" y1="623.65" x2="112.60" y2="619.22" stroke="#e02020" stroke-width="1.4" />
<line x1="110.50" y1="619.22" x2="114.70" y2="619.22" stroke="#e02020" stroke-width="1.4" />
<line x1="138.13" y1="682.16" x2="138.13" y2="692.21" stroke="#000" stroke-width="1.5" />
<line x1="136.03" y1="692.21" x2="140.23" y2="692.21" stroke="#000" stroke-width="1.5" />
<line x1="138.13" y1="647.59" x2="138.13" y2="640.20" stroke="#e02020" stroke-width="1.4" />
<line x1="136.03" y1="640.20" x2="140.23" y2="640.20" stroke="#e02020" stroke-width="1.4" />
<line x1="163.66" y1="674.77" x2="163.66" y2="682.75" stroke="#000" stroke-width="1.5" />
<line x1="161.56" y1="682.75" x2="165.76" y2="682.75" stroke="#000" stroke-width="1.5" />
<line x1="163.66" y1="634.00" x2="163.66" y2="629.86" stroke="#e02020" stroke-width="1.4" />
<line x1="161.56" y1="629.86" x2="165.76" y2="629.86" stroke="#e02020" stroke-width="1.4" />
<line x1="189.19" y1="646.70" x2="189.19" y2="655.27" stroke="#000" stroke-width="1.5" />
<line x1="187.09" y1="655.27" x2="191.29" y2="655.27" stroke="#000" stroke-width="1.5" />
<line x1="189.19" y1="616.27" x2="189.19" y2="610.36" stroke="#e02020" stroke-width="1.4" />
<line x1="187.09" y1="610.36" x2="191.29" y2="610.36" stroke="#e02020" stroke-width="1.4" />
<line x1="214.72" y1="620.40" x2="214.72" y2="625.72" stroke="#000" stroke-width="1.5" />
<line x1="212.62" y1="625.72" x2="216.82" y2="625.72" stroke="#000" stroke-width="1.5" />
<line x1="214.72" y1="606.51" x2="214.72" y2="598.83" stroke="#e02020" stroke-width="1.4" />
<line x1="212.62" y1="598.83" x2="216.82" y2="598.83" stroke="#e02020" stroke-width="1.4" />
<line x1="240.25" y1="597.06" x2="240.25" y2="605.63" stroke="#000" stroke-width="1.5" />
<line x1="238.15" y1="605.63" x2="242.35" y2="605.63" stroke="#000" stroke-width="1.5" />
<line x1="240.25" y1="588.78" x2="240.25" y2="582.58" stroke="#e02020" stroke-width="1.4" />
<line x1="238.15" y1="582.58" x2="242.35" y2="582.58" stroke="#e02020" stroke-width="1.4" />
<line x1="265.78" y1="584.94" x2="265.78" y2="589.97" stroke="#000" stroke-width="1.5" />
<line x1="263.68" y1="589.97" x2="267.88" y2="589.97" stroke="#000" stroke-width="1.5" />
<line x1="265.78" y1="579.03" x2="265.78" y2="570.46" stroke="#e02020" stroke-width="1.4" />
<line x1="263.68" y1="570.46" x2="267.88" y2="570.46" stroke="#e02020" stroke-width="1.4" />
<polyline points="36.01,600.90 61.54,604.74 87.07,616.27 112.60,661.18 138.13,682.16 163.66,674.77 189.19,646.70 214.72,620.40 240.25,597.06 265.78,584.94" fill="none" stroke="#000" stroke-width="1.5" stroke-linejoin="round"/>
<polyline points="36.01,600.90 61.54,602.97 87.07,606.81 112.60,623.65 138.13,647.59 163.66,634.00 189.19,616.27 214.72,606.51 240.25,588.78 265.78,579.03" fill="none" stroke="#e02020" stroke-width="1.5" stroke-linejoin="round"/>
<rect x="33.51" y="598.40" width="5.0" height="5.0" fill="#000" stroke="none" stroke-width="1.0"/>
<rect x="59.04" y="602.24" width="5.0" height="5.0" fill="#000" stroke="none" stroke-width="1.0"/>
<rect x="84.57" y="613.77" width="5.0" height="5.0" fill="#000" stroke="none" stroke-width="1.0"/>
<rect x="110.10" y="658.68" width="5.0" height="5.0" fill="#000" stroke="none" stroke-width="1.0"/>
<rect x="135.63" y="679.66" width="5.0" height="5.0" fill="#000" stroke="none" stroke-width="1.0"/>
<rect x="161.16" y="672.27" width="5.0" height="5.0" fill="#000" stroke="none" stroke-width="1.0"/>
<rect x="186.69" y="644.20" width="5.0" height="5.0" fill="#000" stroke="none" stroke-width="1.0"/>
<rect x="212.22" y="617.90" width="5.0" height="5.0" fill="#000" stroke="none" stroke-width="1.0"/>
<rect x="237.75" y="594.56" width="5.0" height="5.0" fill="#000" stroke="none" stroke-width="1.0"/>
<rect x="263.28" y="582.44" width="5.0" height="5.0" fill="#000" stroke="none" stroke-width="1.0"/>
<polygon points="36.01,597.45 32.71,603.20 39.31,603.20" fill="#fff" stroke="#e02020" stroke-width="1.0" stroke-linejoin="miter"/>
<polygon points="61.54,599.52 58.24,605.27 64.84,605.27" fill="#fff" stroke="#e02020" stroke-width="1.0" stroke-linejoin="miter"/>
<polygon points="87.07,603.36 83.77,609.11 90.37,609.11" fill="#fff" stroke="#e02020" stroke-width="1.0" stroke-linejoin="miter"/>
<polygon points="112.60,620.21 109.30,625.95 115.90,625.95" fill="#fff" stroke="#e02020" stroke-width="1.0" stroke-linejoin="miter"/>
<polygon points="138.13,644.14 134.83,649.89 141.43,649.89" fill="#fff" stroke="#e02020" stroke-width="1.0" stroke-linejoin="miter"/>
<polygon points="163.66,630.55 160.36,636.29 166.96,636.29" fill="#fff" stroke="#e02020" stroke-width="1.0" stroke-linejoin="miter"/>
<polygon points="189.19,612.82 185.89,618.56 192.49,618.56" fill="#fff" stroke="#e02020" stroke-width="1.0" stroke-linejoin="miter"/>
<polygon points="214.72,603.07 211.42,608.81 218.02,608.81" fill="#fff" stroke="#e02020" stroke-width="1.0" stroke-linejoin="miter"/>
<polygon points="240.25,585.34 236.95,591.08 243.55,591.08" fill="#fff" stroke="#e02020" stroke-width="1.0" stroke-linejoin="miter"/>
<polygon points="265.78,575.59 262.48,581.33 269.08,581.33" fill="#fff" stroke="#e02020" stroke-width="1.0" stroke-linejoin="miter"/>
<rect x="261.2" y="777.3" width="80" height="27" fill="#fff" stroke="#aaa" stroke-width="1"/>
<line x1="262.70" y1="784.30" x2="287.70" y2="784.30" stroke="#000" stroke-width="1.5" />
<rect x="272.60" y="781.70" width="5.2" height="5.2" fill="#000" stroke="none" stroke-width="1.0"/>
<line x1="262.70" y1="798.60" x2="287.70" y2="798.60" stroke="#e02020" stroke-width="1.5" />
<polygon points="275.20,794.95 271.70,801.04 278.70,801.04" fill="#fff" stroke="#e02020" stroke-width="1.0" stroke-linejoin="miter"/>
<text x="290.50" y="787.70" font-family='"Liberation Sans", sans-serif' font-size="10.4" font-weight="bold" text-anchor="start" fill="#000" >siRNA NC</text>
<text x="290.50" y="802.40" font-family='"Liberation Sans", sans-serif' font-size="10.4" font-weight="bold" text-anchor="start" fill="#000" >siRNA</text>
<text x="138.20" y="712.00" font-family='"Liberation Sans", sans-serif' font-size="21" font-weight="bold" text-anchor="middle" fill="#000" >*</text>
<line x1="353.00" y1="601.10" x2="654.20" y2="601.10" stroke="#444" stroke-width="1.3" />
<line x1="453.40" y1="566.30" x2="453.40" y2="789.60" stroke="#444" stroke-width="1.1" />
<line x1="353.00" y1="601.10" x2="353.00" y2="605.10" stroke="#555" stroke-width="1.1" />
<text x="353.00" y="615.30" font-family='"Liberation Sans", sans-serif' font-size="8.7" font-weight="normal" text-anchor="middle" fill="#222" >-40</text>
<line x1="403.20" y1="601.10" x2="403.20" y2="605.10" stroke="#555" stroke-width="1.1" />
<text x="403.20" y="615.30" font-family='"Liberation Sans", sans-serif' font-size="8.7" font-weight="normal" text-anchor="middle" fill="#222" >-20</text>
<line x1="453.40" y1="601.10" x2="453.40" y2="605.10" stroke="#555" stroke-width="1.1" />
<text x="453.40" y="615.30" font-family='"Liberation Sans", sans-serif' font-size="8.7" font-weight="normal" text-anchor="middle" fill="#222" >0</text>
<line x1="503.60" y1="601.10" x2="503.60" y2="605.10" stroke="#555" stroke-width="1.1" />
<text x="503.60" y="615.30" font-family='"Liberation Sans", sans-serif' font-size="8.7" font-weight="normal" text-anchor="middle" fill="#222" >20</text>
<line x1="553.80" y1="601.10" x2="553.80" y2="605.10" stroke="#555" stroke-width="1.1" />
<text x="553.80" y="615.30" font-family='"Liberation Sans", sans-serif' font-size="8.7" font-weight="normal" text-anchor="middle" fill="#222" >40</text>
<line x1="604.00" y1="601.10" x2="604.00" y2="605.10" stroke="#555" stroke-width="1.1" />
<text x="604.00" y="615.30" font-family='"Liberation Sans", sans-serif' font-size="8.7" font-weight="normal" text-anchor="middle" fill="#222" >60</text>
<line x1="654.20" y1="601.10" x2="654.20" y2="605.10" stroke="#555" stroke-width="1.1" />
<text x="654.20" y="615.30" font-family='"Liberation Sans", sans-serif' font-size="8.7" font-weight="normal" text-anchor="middle" fill="#222" >80</text>
<line x1="378.10" y1="601.10" x2="378.10" y2="603.50" stroke="#777" stroke-width="1.0" />
<line x1="428.30" y1="601.10" x2="428.30" y2="603.50" stroke="#777" stroke-width="1.0" />
<line x1="478.50" y1="601.10" x2="478.50" y2="603.50" stroke="#777" stroke-width="1.0" />
<line x1="528.70" y1="601.10" x2="528.70" y2="603.50" stroke="#777" stroke-width="1.0" />
<line x1="578.90" y1="601.10" x2="578.90" y2="603.50" stroke="#777" stroke-width="1.0" />
<line x1="629.10" y1="601.10" x2="629.10" y2="603.50" stroke="#777" stroke-width="1.0" />
<line x1="449.50" y1="572.10" x2="453.40" y2="572.10" stroke="#444" stroke-width="1.1" />
<text x="446.10" y="575.10" font-family='"Liberation Sans", sans-serif' font-size="8.7" font-weight="normal" text-anchor="end" fill="#222" >1</text>
<line x1="449.50" y1="601.10" x2="453.40" y2="601.10" stroke="#444" stroke-width="1.1" />
<text x="446.10" y="604.10" font-family='"Liberation Sans", sans-serif' font-size="8.7" font-weight="normal" text-anchor="end" fill="#222" >0</text>
<line x1="449.50" y1="630.10" x2="453.40" y2="630.10" stroke="#444" stroke-width="1.1" />
<text x="446.10" y="633.10" font-family='"Liberation Sans", sans-serif' font-size="8.7" font-weight="normal" text-anchor="end" fill="#222" >-1</text>
<line x1="449.50" y1="659.10" x2="453.40" y2="659.10" stroke="#444" stroke-width="1.1" />
<text x="446.10" y="662.10" font-family='"Liberation Sans", sans-serif' font-size="8.7" font-weight="normal" text-anchor="end" fill="#222" >-2</text>
<line x1="449.50" y1="688.10" x2="453.40" y2="688.10" stroke="#444" stroke-width="1.1" />
<text x="446.10" y="691.10" font-family='"Liberation Sans", sans-serif' font-size="8.7" font-weight="normal" text-anchor="end" fill="#222" >-3</text>
<line x1="449.50" y1="717.10" x2="453.40" y2="717.10" stroke="#444" stroke-width="1.1" />
<text x="446.10" y="720.10" font-family='"Liberation Sans", sans-serif' font-size="8.7" font-weight="normal" text-anchor="end" fill="#222" >-4</text>
<line x1="449.50" y1="746.10" x2="453.40" y2="746.10" stroke="#444" stroke-width="1.1" />
<text x="446.10" y="749.10" font-family='"Liberation Sans", sans-serif' font-size="8.7" font-weight="normal" text-anchor="end" fill="#222" >-5</text>
<line x1="449.50" y1="775.10" x2="453.40" y2="775.10" stroke="#444" stroke-width="1.1" />
<text x="446.10" y="778.10" font-family='"Liberation Sans", sans-serif' font-size="8.7" font-weight="normal" text-anchor="end" fill="#222" >-6</text>
<line x1="450.40" y1="586.60" x2="453.40" y2="586.60" stroke="#444" stroke-width="1.0" />
<line x1="450.40" y1="615.60" x2="453.40" y2="615.60" stroke="#444" stroke-width="1.0" />
<line x1="450.40" y1="644.60" x2="453.40" y2="644.60" stroke="#444" stroke-width="1.0" />
<line x1="450.40" y1="673.60" x2="453.40" y2="673.60" stroke="#444" stroke-width="1.0" />
<line x1="450.40" y1="702.60" x2="453.40" y2="702.60" stroke="#444" stroke-width="1.0" />
<line x1="450.40" y1="731.60" x2="453.40" y2="731.60" stroke="#444" stroke-width="1.0" />
<line x1="450.40" y1="760.60" x2="453.40" y2="760.60" stroke="#444" stroke-width="1.0" />
<text x="462.70" y="583.50" font-family='"Liberation Sans", sans-serif' font-size="10.75" font-weight="bold" text-anchor="start" fill="#000" >Voltage (mV)</text>
<text x="0.00" y="0.00" font-family='"Liberation Sans", sans-serif' font-size="10.7" font-weight="bold" text-anchor="middle" fill="#000" transform="translate(432.2,726.5) rotate(-90)">Current density (pA/pF)</text>
<line x1="378.10" y1="599.65" x2="378.10" y2="606.90" stroke="#000" stroke-width="1.5" />
<line x1="376.00" y1="606.90" x2="380.20" y2="606.90" stroke="#000" stroke-width="1.5" />
<line x1="378.10" y1="600.23" x2="378.10" y2="595.88" stroke="#e02020" stroke-width="1.4" />
<line x1="376.00" y1="595.88" x2="380.20" y2="595.88" stroke="#e02020" stroke-width="1.4" />
<line x1="403.20" y1="607.19" x2="403.20" y2="610.09" stroke="#000" stroke-width="1.5" />
<line x1="401.10" y1="610.09" x2="405.30" y2="610.09" stroke="#000" stroke-width="1.5" />
<line x1="403.20" y1="605.45" x2="403.20" y2="599.65" stroke="#e02020" stroke-width="1.4" />
<line x1="401.10" y1="599.65" x2="405.30" y2="599.65" stroke="#e02020" stroke-width="1.4" />
<line x1="428.30" y1="640.83" x2="428.30" y2="649.53" stroke="#000" stroke-width="1.5" />
<line x1="426.20" y1="649.53" x2="430.40" y2="649.53" stroke="#000" stroke-width="1.5" />
<line x1="428.30" y1="611.25" x2="428.30" y2="603.13" stroke="#e02020" stroke-width="1.4" />
<line x1="426.20" y1="603.13" x2="430.40" y2="603.13" stroke="#e02020" stroke-width="1.4" />
<line x1="453.40" y1="702.31" x2="453.40" y2="713.04" stroke="#000" stroke-width="1.5" />
<line x1="451.30" y1="713.04" x2="455.50" y2="713.04" stroke="#000" stroke-width="1.5" />
<line x1="453.40" y1="640.83" x2="453.40" y2="637.93" stroke="#e02020" stroke-width="1.4" />
<line x1="451.30" y1="637.93" x2="455.50" y2="637.93" stroke="#e02020" stroke-width="1.4" />
<line x1="478.50" y1="739.14" x2="478.50" y2="752.19" stroke="#000" stroke-width="1.5" />
<line x1="476.40" y1="752.19" x2="480.60" y2="752.19" stroke="#000" stroke-width="1.5" />
<line x1="478.50" y1="679.98" x2="478.50" y2="670.70" stroke="#e02020" stroke-width="1.4" />
<line x1="476.40" y1="670.70" x2="480.60" y2="670.70" stroke="#e02020" stroke-width="1.4" />
<line x1="503.60" y1="726.38" x2="503.60" y2="733.34" stroke="#000" stroke-width="1.5" />
<line x1="501.50" y1="733.34" x2="505.70" y2="733.34" stroke="#000" stroke-width="1.5" />
<line x1="503.60" y1="666.06" x2="503.60" y2="658.52" stroke="#e02020" stroke-width="1.4" />
<line x1="501.50" y1="658.52" x2="505.70" y2="658.52" stroke="#e02020" stroke-width="1.4" />
<line x1="528.70" y1="698.54" x2="528.70" y2="709.56" stroke="#000" stroke-width="1.5" />
<line x1="526.60" y1="709.56" x2="530.80" y2="709.56" stroke="#000" stroke-width="1.5" />
<line x1="528.70" y1="633.87" x2="528.70" y2="626.04" stroke="#e02020" stroke-width="1.4" />
<line x1="526.60" y1="626.04" x2="530.80" y2="626.04" stroke="#e02020" stroke-width="1.4" />
<line x1="553.80" y1="645.76" x2="553.80" y2="653.01" stroke="#000" stroke-width="1.5" />
<line x1="551.70" y1="653.01" x2="555.90" y2="653.01" stroke="#000" stroke-width="1.5" />
<line x1="553.80" y1="615.02" x2="553.80" y2="609.80" stroke="#e02020" stroke-width="1.4" />
<line x1="551.70" y1="609.80" x2="555.90" y2="609.80" stroke="#e02020" stroke-width="1.4" />
<line x1="578.90" y1="603.42" x2="578.90" y2="612.70" stroke="#000" stroke-width="1.5" />
<line x1="576.80" y1="612.70" x2="581.00" y2="612.70" stroke="#000" stroke-width="1.5" />
<line x1="578.90" y1="600.23" x2="578.90" y2="592.40" stroke="#e02020" stroke-width="1.4" />
<line x1="576.80" y1="592.40" x2="581.00" y2="592.40" stroke="#e02020" stroke-width="1.4" />
<line x1="604.00" y1="599.07" x2="604.00" y2="604.87" stroke="#000" stroke-width="1.5" />
<line x1="601.90" y1="604.87" x2="606.10" y2="604.87" stroke="#000" stroke-width="1.5" />
<line x1="604.00" y1="597.33" x2="604.00" y2="592.40" stroke="#e02020" stroke-width="1.4" />
<line x1="601.90" y1="592.40" x2="606.10" y2="592.40" stroke="#e02020" stroke-width="1.4" />
<polyline points="378.10,599.65 403.20,607.19 428.30,640.83 453.40,702.31 478.50,739.14 503.60,726.38 528.70,698.54 553.80,645.76 578.90,603.42 604.00,599.07" fill="none" stroke="#000" stroke-width="1.5" stroke-linejoin="round"/>
<polyline points="378.10,600.23 403.20,605.45 428.30,611.25 453.40,640.83 478.50,679.98 503.60,666.06 528.70,633.87 553.80,615.02 578.90,600.23 604.00,597.33" fill="none" stroke="#e02020" stroke-width="1.5" stroke-linejoin="round"/>
<rect x="375.60" y="597.15" width="5.0" height="5.0" fill="#000" stroke="none" stroke-width="1.0"/>
<rect x="400.70" y="604.69" width="5.0" height="5.0" fill="#000" stroke="none" stroke-width="1.0"/>
<rect x="425.80" y="638.33" width="5.0" height="5.0" fill="#000" stroke="none" stroke-width="1.0"/>
<rect x="450.90" y="699.81" width="5.0" height="5.0" fill="#000" stroke="none" stroke-width="1.0"/>
<rect x="476.00" y="736.64" width="5.0" height="5.0" fill="#000" stroke="none" stroke-width="1.0"/>
<rect x="501.10" y="723.88" width="5.0" height="5.0" fill="#000" stroke="none" stroke-width="1.0"/>
<rect x="526.20" y="696.04" width="5.0" height="5.0" fill="#000" stroke="none" stroke-width="1.0"/>
<rect x="551.30" y="643.26" width="5.0" height="5.0" fill="#000" stroke="none" stroke-width="1.0"/>
<rect x="576.40" y="600.92" width="5.0" height="5.0" fill="#000" stroke="none" stroke-width="1.0"/>
<rect x="601.50" y="596.57" width="5.0" height="5.0" fill="#000" stroke="none" stroke-width="1.0"/>
<polygon points="378.10,596.78 374.80,602.53 381.40,602.53" fill="#fff" stroke="#e02020" stroke-width="1.0" stroke-linejoin="miter"/>
<polygon points="403.20,602.00 399.90,607.75 406.50,607.75" fill="#fff" stroke="#e02020" stroke-width="1.0" stroke-linejoin="miter"/>
<polygon points="428.30,607.80 425.00,613.55 431.60,613.55" fill="#fff" stroke="#e02020" stroke-width="1.0" stroke-linejoin="miter"/>
<polygon points="453.40,637.38 450.10,643.13 456.70,643.13" fill="#fff" stroke="#e02020" stroke-width="1.0" stroke-linejoin="miter"/>
<polygon points="478.50,676.53 475.20,682.28 481.80,682.28" fill="#fff" stroke="#e02020" stroke-width="1.0" stroke-linejoin="miter"/>
<polygon points="503.60,662.61 500.30,668.36 506.90,668.36" fill="#fff" stroke="#e02020" stroke-width="1.0" stroke-linejoin="miter"/>
<polygon points="528.70,630.42 525.40,636.17 532.00,636.17" fill="#fff" stroke="#e02020" stroke-width="1.0" stroke-linejoin="miter"/>
<polygon points="553.80,611.57 550.50,617.32 557.10,617.32" fill="#fff" stroke="#e02020" stroke-width="1.0" stroke-linejoin="miter"/>
<polygon points="578.90,596.78 575.60,602.53 582.20,602.53" fill="#fff" stroke="#e02020" stroke-width="1.0" stroke-linejoin="miter"/>
<polygon points="604.00,593.88 600.70,599.63 607.30,599.63" fill="#fff" stroke="#e02020" stroke-width="1.0" stroke-linejoin="miter"/>
<rect x="520.7" y="775.8" width="161.8" height="25.6" fill="#fff" stroke="#aaa" stroke-width="1"/>
<line x1="522.20" y1="782.80" x2="547.20" y2="782.80" stroke="#000" stroke-width="1.5" />
<rect x="532.10" y="780.20" width="5.2" height="5.2" fill="#000" stroke="none" stroke-width="1.0"/>
<line x1="522.20" y1="796.10" x2="547.20" y2="796.10" stroke="#e02020" stroke-width="1.5" />
<polygon points="534.70,792.45 531.20,798.54 538.20,798.54" fill="#fff" stroke="#e02020" stroke-width="1.0" stroke-linejoin="miter"/>
<text x="550.00" y="786.20" font-family='"Liberation Sans", sans-serif' font-size="10.4" font-weight="bold" text-anchor="start" fill="#000" >siRNA NC, with Bay K8644</text>
<text x="550.00" y="799.90" font-family='"Liberation Sans", sans-serif' font-size="10.4" font-weight="bold" text-anchor="start" fill="#000" >siRNA, with Bay K8644</text>
<text x="478.40" y="767.30" font-family='"Liberation Serif", serif' font-size="17" font-weight="normal" text-anchor="middle" fill="#000" stroke="#000" stroke-width="0.5">#</text>
</svg>
</body></html>
